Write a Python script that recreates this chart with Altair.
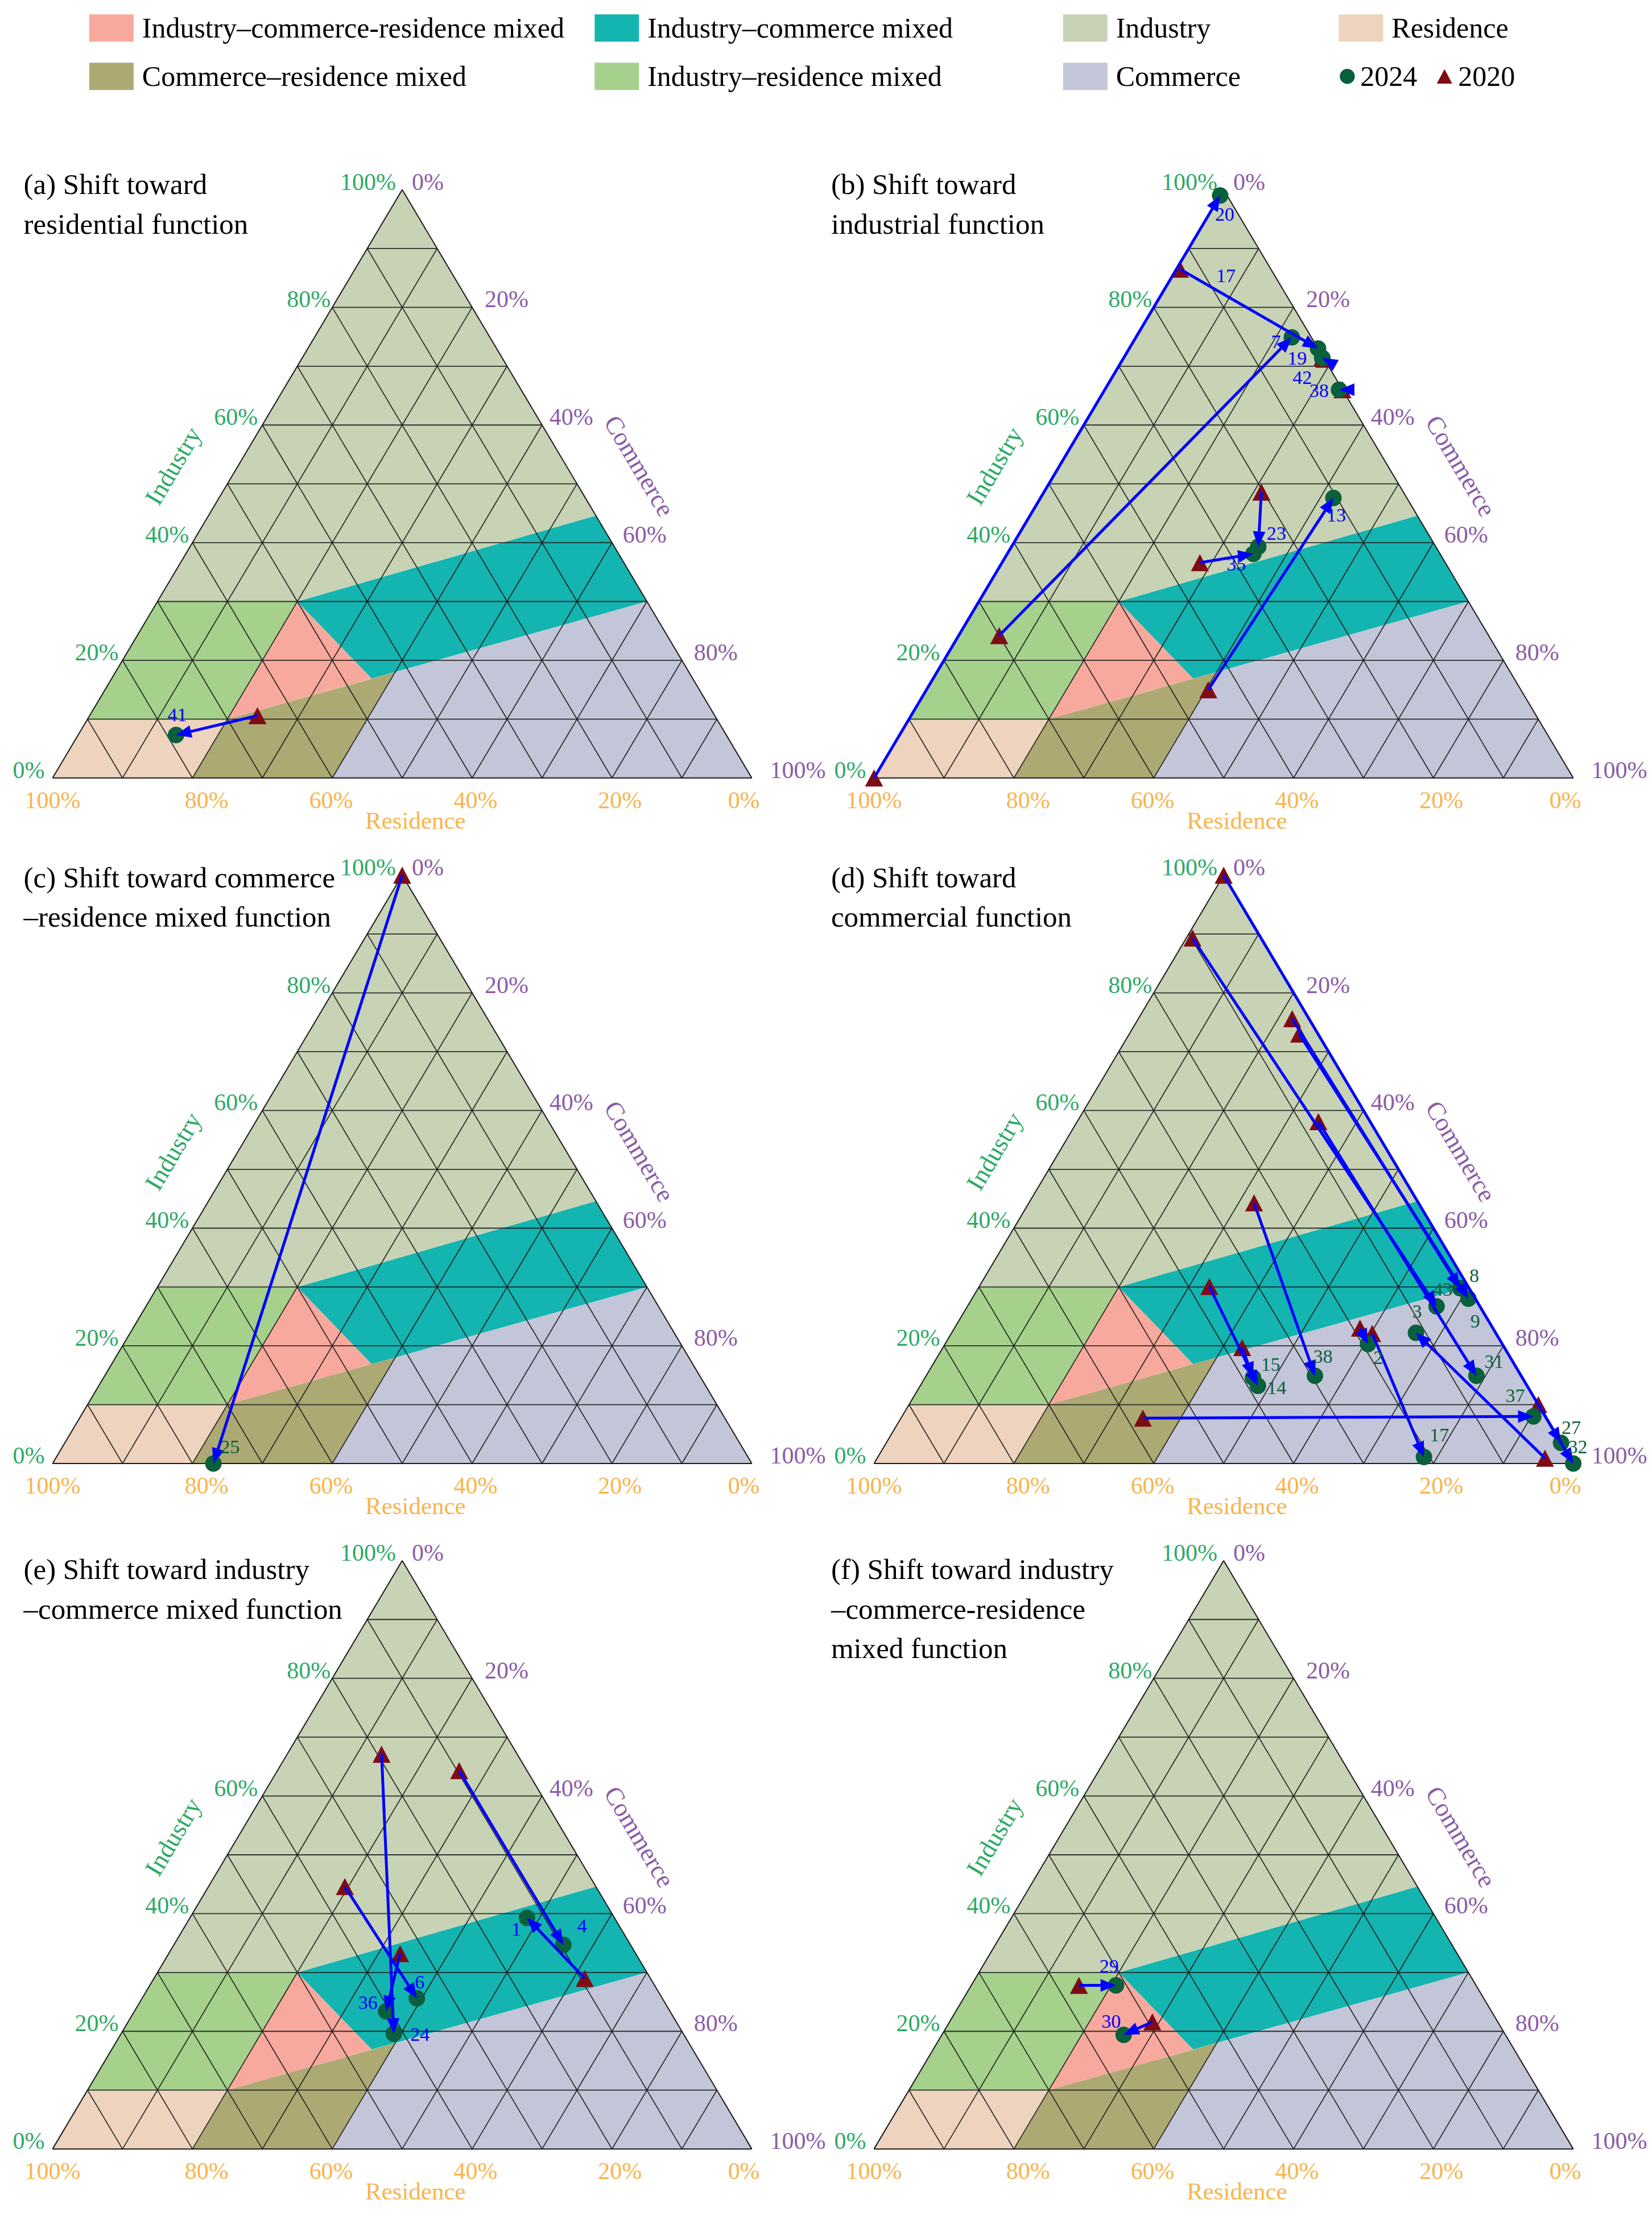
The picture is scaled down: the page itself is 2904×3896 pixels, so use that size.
import math
import altair as alt
import pandas as pd

SERIF = "Liberation Serif"

# ---------------- classification regions (vertices as Industry %, Commerce %) ----------------
REGION_NAMES = [
    "Industry\u2013commerce-residence mixed",
    "Industry\u2013commerce mixed",
    "Industry",
    "Residence",
    "Commerce\u2013residence mixed",
    "Industry\u2013residence mixed",
    "Commerce",
]
REGION_COLORS = ["#F8A99D", "#14B4B0", "#C7D3B4", "#EED4BE", "#ADA973", "#A5D18C", "#C3C6D8"]
REG_ICR = [(30, 20), (16.9, 37.2), (10, 20)]
REG_IC = [(30, 20), (44.6, 55.4), (30, 70), (16.9, 37.2)]
REG_I = [(30, 0), (30, 20), (44.6, 55.4), (100, 0)]
REG_R = [(0, 0), (0, 20), (10, 20), (10, 0)]
REG_CR = [(0, 20), (0, 40), (18, 40), (10, 20)]
REG_IR = [(10, 0), (10, 20), (30, 20), (30, 0)]
REG_C = [(0, 40), (0, 100), (30, 70), (18, 40)]
REGION_VERTS = [REG_ICR, REG_IC, REG_I, REG_R, REG_CR, REG_IR, REG_C]

TICKS = [0, 20, 40, 60, 80, 100]
GRID = [10, 20, 30, 40, 50, 60, 70, 80, 90]

# ---------------- plots: shares (%) in 2020 and 2024 ----------------
A_IDS = [41]
A_IND_2020 = [10.6]
A_COM_2020 = [24.0]
A_RES_2020 = [65.4]
A_IND_2024 = [7.3]
A_COM_2024 = [14.0]
A_RES_2024 = [78.7]

B_IDS = [20, 17, 7, 19, 42, 38, 13, 23, 35]
B_IND_2020 = [0.0, 86.5, 24.2, 71.2, 71.4, 66.0, 15.0, 48.6, 36.6]
B_COM_2020 = [0.0, 0.5, 5.8, 28.8, 28.4, 34.0, 40.3, 31.1, 28.3]
B_RES_2020 = [100.0, 13.0, 70.0, 0.0, 0.2, 0.0, 44.7, 20.3, 35.1]
B_IND_2024 = [99.0, 73.0, 74.9, 71.4, 71.4, 66.0, 47.6, 39.3, 38.1]
B_COM_2024 = [0.0, 27.0, 22.3, 28.4, 28.4, 33.5, 41.9, 35.3, 35.2]
B_RES_2024 = [1.0, 0.0, 2.8, 0.2, 0.2, 0.5, 10.5, 25.4, 26.7]

C_IDS = [25]
C_IND_2020 = [100.0]
C_COM_2020 = [0.0]
C_RES_2020 = [0.0]
C_IND_2024 = [0.0]
C_COM_2024 = [23.0]
C_RES_2024 = [77.0]

D_IDS = [32, 43, 8, 9, 31, 38, 14, 15, 2, 17, 37, 27, 3]
D_IND_2020 = [100.0, 89.3, 75.6, 73.0, 58.1, 44.3, 30.1, 19.7, 23.0, 22.1, 7.7, 10.0, 0.9]
D_COM_2020 = [0.0, 0.9, 22.0, 24.3, 34.5, 32.2, 32.9, 42.8, 58.0, 60.2, 34.6, 90.0, 95.5]
D_RES_2020 = [0.0, 9.8, 2.4, 2.7, 7.4, 23.5, 37.0, 37.5, 19.0, 17.7, 57.7, 0.0, 3.6]
D_IND_2024 = [0.0, 26.7, 29.8, 28.0, 14.9, 14.9, 13.2, 14.6, 20.3, 1.1, 8.0, 3.5, 22.2]
D_COM_2024 = [100.0, 67.1, 68.9, 71.0, 78.7, 55.6, 48.3, 46.9, 60.5, 78.1, 90.3, 96.5, 66.4]
D_RES_2024 = [0.0, 6.2, 1.3, 1.0, 6.4, 29.5, 38.5, 38.5, 19.2, 20.8, 1.7, 0.0, 11.4]

E_IDS = [24, 4, 6, 36, 1]
E_IND_2020 = [67.1, 64.3, 44.6, 33.2, 29.0]
E_COM_2020 = [13.5, 26.0, 19.5, 33.1, 61.6]
E_RES_2020 = [19.4, 9.7, 35.9, 33.7, 9.4]
E_IND_2024 = [19.6, 34.7, 25.6, 23.4, 39.3]
E_COM_2024 = [39.0, 55.7, 39.3, 36.0, 48.2]
E_RES_2024 = [41.4, 9.6, 35.1, 40.6, 12.5]

F_IDS = [29, 30]
F_IND_2020 = [27.8, 21.6]
F_COM_2020 = [15.4, 29.0]
F_RES_2020 = [56.8, 49.4]
F_IND_2024 = [27.8, 19.4]
F_COM_2024 = [20.7, 26.0]
F_RES_2024 = [51.5, 54.6]

PANEL_DATA = {
    "a": (A_IDS, A_IND_2020, A_COM_2020, A_RES_2020, A_IND_2024, A_COM_2024, A_RES_2024),
    "b": (B_IDS, B_IND_2020, B_COM_2020, B_RES_2020, B_IND_2024, B_COM_2024, B_RES_2024),
    "c": (C_IDS, C_IND_2020, C_COM_2020, C_RES_2020, C_IND_2024, C_COM_2024, C_RES_2024),
    "d": (D_IDS, D_IND_2020, D_COM_2020, D_RES_2020, D_IND_2024, D_COM_2024, D_RES_2024),
    "e": (E_IDS, E_IND_2020, E_COM_2020, E_RES_2020, E_IND_2024, E_COM_2024, E_RES_2024),
    "f": (F_IDS, F_IND_2020, F_COM_2020, F_RES_2020, F_IND_2024, F_COM_2024, F_RES_2024),
}

PANEL_TITLES = {
    "a": ["(a) Shift toward", "residential function"],
    "b": ["(b) Shift toward", "industrial function"],
    "c": ["(c) Shift toward commerce", "\u2013residence mixed function"],
    "d": ["(d) Shift toward", "commercial function"],
    "e": ["(e) Shift toward industry", "\u2013commerce mixed function"],
    "f": ["(f) Shift toward industry", "\u2013commerce-residence", "mixed function"],
}

# ---------------- styling / layout ----------------
LABEL_OFFSET = {  # label centre relative to 2024 point, px (right, down)
    "a": {41: (2, -34)},
    "b": {20: (8, 34), 17: (-162, -127), 7: (-28, 9), 19: (-44, 2), 42: (-35, 36),
          38: (-35, 3), 13: (5, 32), 23: (32, -22), 35: (-30, 19)},
    "c": {25: (29, -28)},
    "d": {8: (25, -21), 9: (12, 41), 43: (11, -29), 3: (2, -36), 2: (18, 25), 38: (14, -33),
          31: (31, -24), 37: (-32, -35), 27: (18, -26), 32: (8, -28), 17: (27, -38),
          15: (31, -22), 14: (33, 5)},
    "e": {1: (-19, 21), 4: (33, -32), 6: (5, -27), 36: (-32, -14), 24: (46, 3)},
    "f": {29: (-12, -33), 30: (-22, -22)},
}
LABEL_COLOR = {"a": "#0000FF", "b": "#0000FF", "c": "#0A5F3C", "d": "#0A5F3C",
               "e": "#0000FF", "f": "#0000FF"}
LEFT_DX = [-14, -7, -6, -8, -3, -11]      # industry tick labels 0..100 %, px
RIGHT_DX = [17, 22, 13, 19, 21, 32]       # commerce tick labels 0..100 %, px
BOTTOM_DX = [-14, 14, 6, -2, 25, 0]       # residence tick labels 0..100 %, px

IND_COLOR = "#2EAA66"
COM_COLOR = "#8B5CA8"
RES_COLOR = "#F9B44E"
C2024 = "#0A5F3C"
C2020 = "#7E0C14"
ARROW = "#0000FF"

SX = 12.3     # px per ternary unit (horizontal)
SY = 10.35    # px per industry percent (vertical)
PANEL_W, PANEL_H = 1436, 1206
X_LO = -6.87
X_HI = X_LO + PANEL_W / SX
Y_LO = -10.3
Y_HI = Y_LO + PANEL_H / SY
HEAD_LEN = 27
HEAD_PATH = "M0,-1L0.82,1L-0.82,1Z"
TRI_PATH = "M0,-0.95L1,0.95L-1,0.95Z"
TITLE_TOP = [100.7, 99.4, 98.3]   # per row, in industry-% units
TITLE_X = [-4.14, -6.14]          # per column


def to_xy(ind, com, res):
    s = ind + com + res
    return (com + ind / 2.0) * 100.0 / s, ind * 100.0 / s


def region_frame():
    rows = []
    for name, verts in zip(REGION_NAMES, REGION_VERTS):
        pts = [to_xy(i, c, 100 - i - c) for i, c in verts]
        xs = sorted(set(round(p[0], 6) for p in pts))
        n = len(pts)
        for x in xs:
            ys = []
            for j in range(n):
                (xa, ya), (xb, yb) = pts[j], pts[(j + 1) % n]
                if abs(xb - xa) < 1e-9:
                    if abs(x - xa) < 1e-6:
                        ys += [ya, yb]
                elif min(xa, xb) - 1e-6 <= x <= max(xa, xb) + 1e-6:
                    ys.append(ya + (yb - ya) * (x - xa) / (xb - xa))
            rows.append({"region": name, "x": x, "ylo": min(ys), "yhi": max(ys)})
    return pd.DataFrame(rows)


def grid_frame():
    rows = []
    for v in GRID:
        rows.append(dict(x=v / 2, y=v, x2=100 - v / 2, y2=v))
        rows.append(dict(x=v, y=0, x2=v + (100 - v) / 2, y2=100 - v))
        rows.append(dict(x=100 - v, y=0, x2=(100 - v) / 2, y2=100 - v))
    return pd.DataFrame(rows)


BORDER = pd.DataFrame([dict(x=0, y=0, x2=100, y2=0), dict(x=0, y=0, x2=50, y2=100),
                       dict(x=100, y=0, x2=50, y2=100)])

xs_ = alt.Scale(domain=[X_LO, X_HI], nice=False, zero=False)
ys_ = alt.Scale(domain=[Y_LO, Y_HI], nice=False, zero=False)


def X(f):
    return alt.X(f, type="quantitative", scale=xs_, axis=None)


def Y(f):
    return alt.Y(f, type="quantitative", scale=ys_, axis=None)


REGIONS_DF = region_frame()
GRID_DF = grid_frame()
color_scale = alt.Scale(domain=REGION_NAMES, range=REGION_COLORS)

LEFT_DF = pd.DataFrame(dict(x=[t / 2 + d / SX for t, d in zip(TICKS, LEFT_DX)], y=TICKS,
                            t=[f"{t}%" for t in TICKS]))
RIGHT_DF = pd.DataFrame(dict(x=[t + (100 - t) / 2 + d / SX for t, d in zip(TICKS, RIGHT_DX)],
                             y=[100 - t for t in TICKS], t=[f"{t}%" for t in TICKS]))
BOTTOM_DF = pd.DataFrame(dict(x=[100 - t + d / SX for t, d in zip(TICKS, BOTTOM_DX)],
                              y=[0] * len(TICKS), t=[f"{t}%" for t in TICKS]))


def panel(key, col, row):
    ids, i0, c0, r0, i1, c1, r1 = PANEL_DATA[key]
    pts, arrows, heads, labels = [], [], [], []
    for k, pid in enumerate(ids):
        x0, y0 = to_xy(i0[k], c0[k], r0[k])
        x1, y1 = to_xy(i1[k], c1[k], r1[k])
        pts.append(dict(id=pid, x0=x0, y0=y0, x1=x1, y1=y1))
        px, py = (x1 - x0) * SX, (y1 - y0) * SY
        L = math.hypot(px, py)
        if L > 1.0:
            ux, uy = px / L, py / L
            hx = x1 - (HEAD_LEN / 2) * ux / SX
            hy = y1 - (HEAD_LEN / 2) * uy / SY
            arrows.append(dict(x=x0, y=y0, x2=hx, y2=hy))
            heads.append(dict(x=hx, y=hy, ang=math.degrees(math.atan2(px, py)) % 360))
        dx, dy = LABEL_OFFSET[key].get(pid, (0, -30))
        labels.append(dict(x=x1 + dx / SX, y=y1 - dy / SY, t=str(pid)))
    pts = pd.DataFrame(pts)

    regions = alt.Chart(REGIONS_DF).mark_area(opacity=1, interpolate="linear").encode(
        x=X("x"), y=alt.Y("ylo:Q", scale=ys_, axis=None, stack=None), y2=alt.Y2("yhi:Q"),
        color=alt.Color("region:N", scale=color_scale, legend=None))
    grid = alt.Chart(GRID_DF).mark_rule(color="#1c1c1c", strokeWidth=1.8, opacity=0.9).encode(
        x=X("x"), y=Y("y"), x2=alt.X2("x2:Q"), y2=alt.Y2("y2:Q"))
    border = alt.Chart(BORDER).mark_rule(color="#1a1a1a", strokeWidth=2).encode(
        x=X("x"), y=Y("y"), x2=alt.X2("x2:Q"), y2=alt.Y2("y2:Q"))

    tick_l = alt.Chart(LEFT_DF).mark_text(align="right", baseline="alphabetic", font=SERIF,
                                          fontSize=42, color=IND_COLOR).encode(x=X("x"), y=Y("y"), text="t:N")
    tick_r = alt.Chart(RIGHT_DF).mark_text(align="left", baseline="alphabetic", font=SERIF,
                                           fontSize=42, color=COM_COLOR).encode(x=X("x"), y=Y("y"), text="t:N")
    tick_b = alt.Chart(BOTTOM_DF).mark_text(align="center", baseline="alphabetic", dy=53, font=SERIF,
                                            fontSize=42, color=RES_COLOR).encode(x=X("x"), y=Y("y"), text="t:N")

    ang = math.degrees(math.atan2(100 * SY, 50 * SX))
    ind_t = alt.Chart(pd.DataFrame(dict(x=[26.5 - 113 / SX], y=[53.0], t=["Industry"]))).mark_text(
        angle=360 - ang, font=SERIF, fontSize=45, color=IND_COLOR, align="center", baseline="middle"
    ).encode(x=X("x"), y=Y("y"), text="t:N")
    com_t = alt.Chart(pd.DataFrame(dict(x=[73.5 + 127 / SX], y=[53.0], t=["Commerce"]))).mark_text(
        angle=ang, font=SERIF, fontSize=45, color=COM_COLOR, align="center", baseline="middle"
    ).encode(x=X("x"), y=Y("y"), text="t:N")
    res_t = alt.Chart(pd.DataFrame(dict(x=[51.9], y=[0.0], t=["Residence"]))).mark_text(
        dy=76, font=SERIF, fontSize=43, color=RES_COLOR, align="center", baseline="middle"
    ).encode(x=X("x"), y=Y("y"), text="t:N")

    lines = PANEL_TITLES[key]
    title_df = pd.DataFrame(dict(x=[TITLE_X[col]] * len(lines),
                                 y=[TITLE_TOP[row] - 6.7 * k for k in range(len(lines))], t=lines))
    title = alt.Chart(title_df).mark_text(align="left", baseline="middle", font=SERIF, fontSize=51,
                                          color="black").encode(x=X("x"), y=Y("y"), text="t:N")

    tri = alt.Chart(pts).mark_point(shape=TRI_PATH, filled=True, size=1000, color=C2020, opacity=1,
                                    strokeWidth=0).encode(x=X("x0"), y=Y("y0"))
    circ = alt.Chart(pts).mark_circle(size=841, color=C2024, opacity=1).encode(x=X("x1"), y=Y("y1"))
    layers = [regions, grid, border, tick_l, tick_r, tick_b, ind_t, com_t, res_t, title, tri, circ]
    if arrows:
        layers.append(alt.Chart(pd.DataFrame(arrows)).mark_rule(color=ARROW, strokeWidth=5).encode(
            x=X("x"), y=Y("y"), x2=alt.X2("x2:Q"), y2=alt.Y2("y2:Q")))
        layers.append(alt.Chart(pd.DataFrame(heads)).mark_point(
            shape=HEAD_PATH, filled=True, size=HEAD_LEN ** 2, color=ARROW, opacity=1, strokeWidth=0
        ).encode(x=X("x"), y=Y("y"), angle=alt.Angle("ang:Q", scale=None)))
    layers.append(alt.Chart(pd.DataFrame(labels)).mark_text(
        font=SERIF, fontSize=34, color=LABEL_COLOR[key], align="center", baseline="middle"
    ).encode(x=X("x"), y=Y("y"), text="t:N"))
    return alt.layer(*layers).properties(width=PANEL_W, height=PANEL_H)


# ---------------- legend ----------------
LEG_W, LEG_H = 2 * PANEL_W, 260
SLOT_X = [149, 1038, 1862, 2347]
SLOT_Y = [40, 125]
SW_W, SW_H = 78, 48
lx = alt.Scale(domain=[0, LEG_W], nice=False, zero=False)
ly = alt.Scale(domain=[0, LEG_H], nice=False, zero=False, reverse=True)
sw = []
for k, name in enumerate(REGION_NAMES):
    c, r = k % 4, k // 4
    sw.append(dict(region=name, x=SLOT_X[c], x2=SLOT_X[c] + SW_W, y=SLOT_Y[r] - SW_H / 2,
                   y2=SLOT_Y[r] + SW_H / 2, tx=SLOT_X[c] + SW_W + 15, ty=SLOT_Y[r] + 2))
sw = pd.DataFrame(sw)
leg_rect = alt.Chart(sw).mark_rect().encode(
    x=alt.X("x:Q", scale=lx, axis=None), x2="x2:Q", y=alt.Y("y:Q", scale=ly, axis=None), y2="y2:Q",
    color=alt.Color("region:N", scale=color_scale, legend=None))
leg_text = alt.Chart(sw).mark_text(align="left", baseline="middle", font=SERIF, fontSize=50,
                                   color="black").encode(
    x=alt.X("tx:Q", scale=lx, axis=None), y=alt.Y("ty:Q", scale=ly, axis=None), text="region:N")
YEARS = ["2024", "2020"]
yr = pd.DataFrame(dict(year=YEARS, x=[2362, 2533], tx=[2385, 2557], y=[125, 125], ty=[127, 127]))
leg_circ = alt.Chart(yr[yr.year == "2024"]).mark_circle(size=700, color=C2024, opacity=1).encode(
    x=alt.X("x:Q", scale=lx, axis=None), y=alt.Y("y:Q", scale=ly, axis=None))
leg_tri = alt.Chart(yr[yr.year == "2020"]).mark_point(shape=TRI_PATH, filled=True, size=729, color=C2020,
                                                       opacity=1, strokeWidth=0).encode(
    x=alt.X("x:Q", scale=lx, axis=None), y=alt.Y("y:Q", scale=ly, axis=None))
leg_yr = alt.Chart(yr).mark_text(align="left", baseline="middle", font=SERIF, fontSize=50,
                                 color="black").encode(
    x=alt.X("tx:Q", scale=lx, axis=None), y=alt.Y("ty:Q", scale=ly, axis=None), text="year:N")
legend = alt.layer(leg_rect, leg_text, leg_circ, leg_tri, leg_yr).properties(width=LEG_W, height=LEG_H)

rows = []
for r, (ka, kb) in enumerate([("a", "b"), ("c", "d"), ("e", "f")]):
    rows.append(alt.hconcat(panel(ka, 0, r), panel(kb, 1, r), spacing=0))

chart = alt.vconcat(legend, *rows, spacing=0).properties(padding=0).configure_view(stroke=None)
chart.save("out.html", embed_options={"renderer": "svg", "actions": False})
